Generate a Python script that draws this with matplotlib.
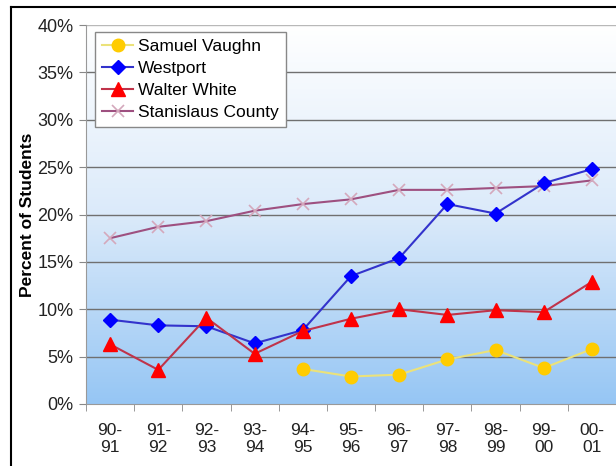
import numpy as np
import matplotlib.pyplot as plt
from matplotlib.colors import LinearSegmentedColormap
from matplotlib.lines import Line2D

plt.rcParams['font.family'] = ['Liberation Sans', 'DejaVu Sans']

years = ['90-\n91', '91-\n92', '92-\n93', '93-\n94', '94-\n95', '95-\n96',
         '96-\n97', '97-\n98', '98-\n99', '99-\n00', '00-\n01']
samuel_vaughn = [None, None, None, None, 3.7, 2.9, 3.1, 4.7, 5.7, 3.8, 5.8]
westport = [8.9, 8.3, 8.2, 6.4, 7.8, 13.5, 15.4, 21.1, 20.1, 23.3, 24.8]
walter_white = [6.3, 3.6, 9.1, 5.3, 7.7, 9.0, 10.0, 9.4, 9.9, 9.7, 12.9]
stanislaus = [17.5, 18.7, 19.3, 20.4, 21.1, 21.6, 22.6, 22.6, 22.8, 23.0, 23.6]

fig = plt.figure(figsize=(6.16, 4.66), dpi=100)
ax = fig.add_axes([86/616, 1-404/466, 530/616, 379/466])

x = np.arange(len(years))

# gradient background, white at top to light blue at bottom
cmap = LinearSegmentedColormap.from_list('bg', ['#ffffff', '#dbeafa', '#96c6f4'])
grad = np.linspace(0, 1, 256).reshape(-1, 1)
ax.imshow(grad, cmap=cmap, aspect='auto', extent=(-0.5, 10.5, 0, 40), zorder=0)

for v in range(5, 40, 5):
    ax.axhline(v, color='#707070', lw=1, zorder=1)
ax.axhline(40, color='#b8b8b8', lw=1, zorder=1)

sv = np.array([np.nan if v is None else v for v in samuel_vaughn])
ax.plot(x, sv, color='#ebe27a', lw=1.5, marker='o', ms=9, mfc='#ffcc00', mec='#ffcc00',
        label='Samuel Vaughn', zorder=3)
ax.plot(x, westport, color='#3333cc', lw=1.5, marker='D', ms=7, mfc='#0000ff', mec='#0000ff',
        label='Westport', zorder=4)
ax.plot(x, walter_white, color='#c0334a', lw=1.5, marker='^', ms=10, mfc='#ff0000', mec='#ff0000',
        label='Walter White', zorder=4)
ax.plot(x, stanislaus, color='#9e5080', lw=1.5, marker='x', ms=9, mec='#d4a8bc', mew=1.2,
        label='Stanislaus County', zorder=2)

ax.set_xlim(-0.5, 10.5)
ax.set_ylim(0, 40)
ax.set_yticks(range(0, 45, 5))
ax.set_yticklabels([f'{v}%' for v in range(0, 45, 5)], fontsize=13, color='#222222')
ax.set_xticks(x)
ax.set_xticklabels(years, fontsize=12.5, color='#222222', linespacing=1.15)
ax.set_xticks(np.arange(-0.5, 11, 1), minor=True)
ax.tick_params(axis='x', which='major', length=0, pad=14)
ax.tick_params(axis='x', which='minor', length=5, color='#888888')
ax.tick_params(axis='y', length=5, color='#888888', pad=4)
ax.set_ylabel('Percent of Students', fontsize=12.5, fontweight='bold', labelpad=2)

for s in ['top', 'right']:
    ax.spines[s].set_visible(False)
for s in ['left', 'bottom']:
    ax.spines[s].set_color('#999999')

leg = ax.legend(loc='upper left', bbox_to_anchor=(0.017, 0.982), borderaxespad=0,
                fontsize=12.5, fancybox=False, framealpha=1, edgecolor='#888888',
                handlelength=1.8, handletextpad=0.3, labelspacing=0.4, borderpad=0.4)

# page frame lines
fig.add_artist(Line2D([11/616, 1], [1-7/466, 1-7/466], color='black', lw=1.5))
fig.add_artist(Line2D([11/616, 11/616], [0, 1-7/466], color='black', lw=1.5))

fig.savefig('out.png', dpi=100)
